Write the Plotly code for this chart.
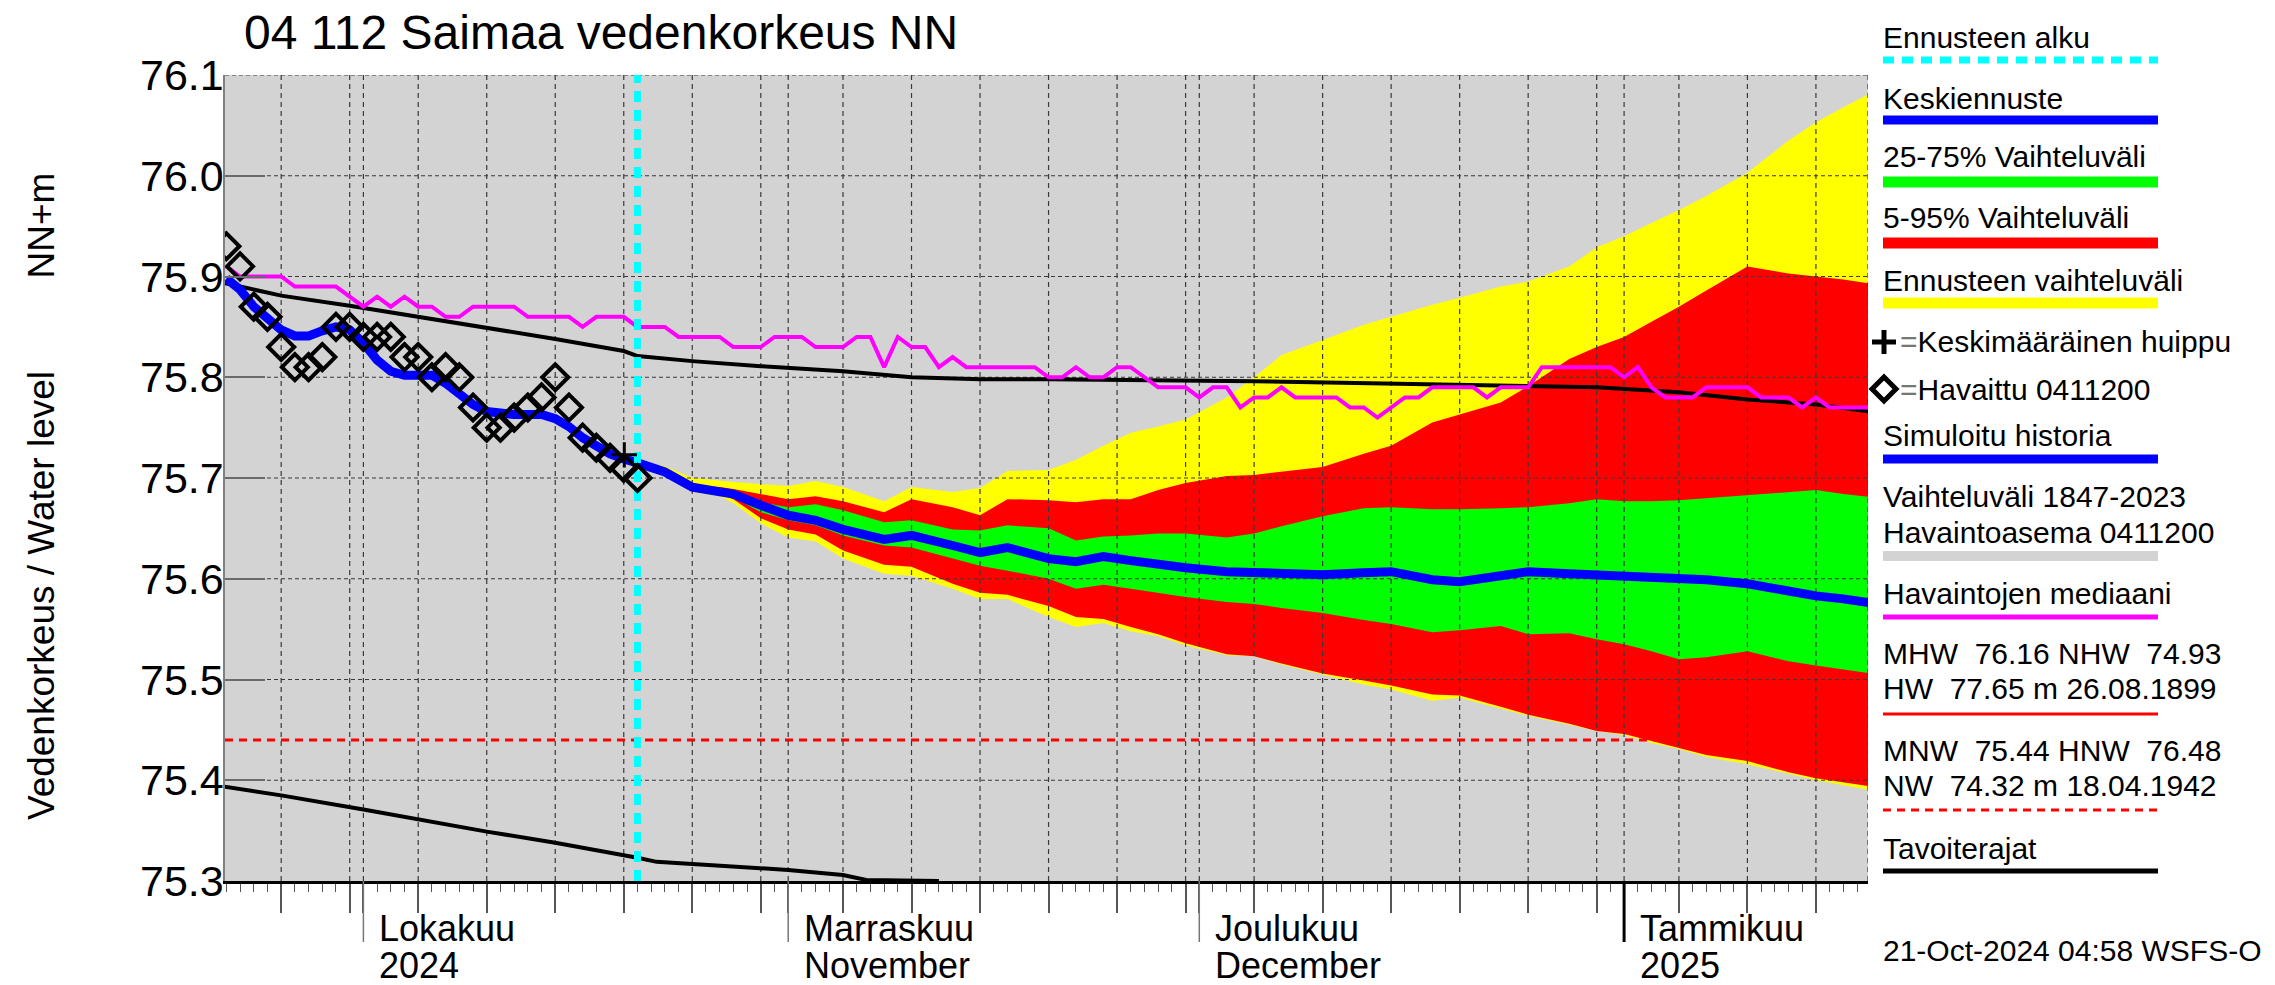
import plotly.graph_objects as go
import pandas as pd

# ---------------- data ----------------
BASE = pd.Timestamp("2024-10-01")          # day 0 = 1 Oct 2024
X_START = "2024-09-20 21:36"
X_END = "2025-01-18 19:12"
FORECAST_START_DAY = 20                    # 21 Oct 2024

y_ticks = [75.3, 75.4, 75.5, 75.6, 75.7, 75.8, 75.9, 76.0, 76.1]
grid_days_of_month = [5, 10, 15, 20, 25, 30]
grid_months = ["2024-09", "2024-10", "2024-11", "2024-12", "2025-01"]
month_starts = ["2024-10-01", "2024-11-01", "2024-12-01", "2025-01-01"]
month_label_1 = ["Lokakuu", "Marraskuu", "Joulukuu", "Tammikuu"]
month_label_2 = ["2024", "November", "December", "2025"]

# observed water level (diamonds), daily 21 Sep .. 21 Oct
obs_days = list(range(-10, 21))
obs_level = [75.93, 75.91, 75.87, 75.86, 75.83, 75.81, 75.81, 75.82, 75.85, 75.85,
             75.84, 75.84, 75.84, 75.82, 75.82, 75.80, 75.81, 75.80, 75.77, 75.75,
             75.75, 75.76, 75.77, 75.78, 75.80, 75.77, 75.74, 75.73, 75.72, 75.71, 75.70]

# simulated history (blue), daily
sim_days = list(range(-10, 21))
sim_level = [75.898, 75.887, 75.870, 75.857, 75.847, 75.841, 75.841, 75.846, 75.850, 75.847,
             75.834, 75.817, 75.806, 75.802, 75.803, 75.802, 75.794, 75.783, 75.773, 75.766,
             75.764, 75.763, 75.763, 75.763, 75.759, 75.751, 75.740, 75.731, 75.724, 75.719, 75.715]

# mean peak marker
peak_day = [19.04]
peak_level = [75.723]

# median of observations (magenta), daily
median_days = list(range(-10, 111))
median_level = [75.91, 75.90, 75.90, 75.90, 75.90, 75.89, 75.89, 75.89, 75.89, 75.88,
                75.87, 75.88, 75.87, 75.88, 75.87, 75.87, 75.86, 75.86, 75.87, 75.87,
                75.87, 75.87, 75.86, 75.86, 75.86, 75.86, 75.85, 75.86, 75.86, 75.86,
                75.85, 75.85, 75.85, 75.84, 75.84, 75.84, 75.84, 75.83, 75.83, 75.83,
                75.84, 75.84, 75.84, 75.83, 75.83, 75.83, 75.84, 75.84, 75.81, 75.84,
                75.83, 75.83, 75.81, 75.82, 75.81, 75.81, 75.81, 75.81, 75.81, 75.81,
                75.80, 75.80, 75.81, 75.80, 75.80, 75.81, 75.81, 75.80, 75.79, 75.79,
                75.79, 75.78, 75.79, 75.79, 75.77, 75.78, 75.78, 75.79, 75.78, 75.78,
                75.78, 75.78, 75.77, 75.77, 75.76, 75.77, 75.78, 75.78, 75.79, 75.79,
                75.79, 75.79, 75.78, 75.79, 75.79, 75.79, 75.81, 75.81, 75.81, 75.81,
                75.81, 75.81, 75.80, 75.81, 75.79, 75.78, 75.78, 75.78, 75.79, 75.79,
                75.79, 75.79, 75.78, 75.78, 75.78, 75.77, 75.78, 75.77, 75.77, 75.77,
                75.77]

# target limits (black)
upper_days = [-10.3, -6, -1, 4, 9, 14, 19, 20, 24, 29, 35, 40, 45, 50, 65, 80, 90, 96, 101, 106, 110]
upper_level = [75.894, 75.881, 75.871, 75.860, 75.849, 75.838, 75.826, 75.821, 75.816, 75.811,
               75.806, 75.800, 75.798, 75.798, 75.796, 75.792, 75.790, 75.785, 75.778, 75.773, 75.766]
lower_days = [-10.3, -6, 0, 4, 9, 14, 19, 20, 21.4, 31, 35, 36.7, 42]
lower_level = [75.394, 75.385, 75.371, 75.361, 75.349, 75.338, 75.326, 75.323, 75.319,
               75.311, 75.306, 75.301, 75.300]

MNW = 75.44

# forecast percentiles
fc_days = [20, 22, 24, 26, 27, 29, 31, 33, 35, 38, 40, 43, 45, 47, 50, 52, 54, 56, 58, 60,
           63, 65, 67, 70, 73, 75, 78, 80, 83, 85, 88, 90, 92, 94, 96, 98, 101, 104, 106, 108, 110]
fc_max = [75.715, 75.712, 75.700, 75.697, 75.696, 75.694, 75.692, 75.697, 75.691, 75.677,
          75.691, 75.686, 75.690, 75.707, 75.708, 75.718, 75.732, 75.745, 75.751, 75.758,
          75.780, 75.800, 75.822, 75.837, 75.852, 75.860, 75.872, 75.879, 75.890, 75.895,
          75.910, 75.929, 75.940, 75.953, 75.966, 75.980, 76.003, 76.035, 76.053, 76.068, 76.082]
fc_p95 = [75.715, 75.708, 75.692, 75.691, 75.689, 75.684, 75.679, 75.682, 75.677, 75.666,
          75.679, 75.671, 75.663, 75.679, 75.678, 75.676, 75.679, 75.679, 75.688, 75.695,
          75.702, 75.703, 75.706, 75.711, 75.724, 75.732, 75.755, 75.763, 75.775, 75.791,
          75.818, 75.830, 75.840, 75.855, 75.870, 75.886, 75.910, 75.903, 75.900, 75.897, 75.893]
fc_p75 = [75.715, 75.707, 75.691, 75.689, 75.686, 75.676, 75.671, 75.674, 75.668, 75.656,
          75.658, 75.649, 75.648, 75.653, 75.650, 75.638, 75.642, 75.643, 75.645, 75.645,
          75.641, 75.645, 75.652, 75.662, 75.670, 75.671, 75.669, 75.669, 75.670, 75.671,
          75.675, 75.679, 75.677, 75.677, 75.678, 75.680, 75.683, 75.686, 75.688, 75.684, 75.681]
fc_p50 = [75.715, 75.706, 75.691, 75.687, 75.684, 75.673, 75.663, 75.658, 75.649, 75.639,
          75.643, 75.633, 75.626, 75.631, 75.620, 75.617, 75.622, 75.618, 75.614, 75.611,
          75.607, 75.606, 75.605, 75.604, 75.606, 75.607, 75.599, 75.597, 75.603, 75.607,
          75.605, 75.604, 75.603, 75.602, 75.601, 75.599, 75.595, 75.587, 75.583, 75.580, 75.576]
fc_p25 = [75.715, 75.705, 75.690, 75.686, 75.681, 75.666, 75.658, 75.653, 75.643, 75.633,
          75.631, 75.620, 75.613, 75.608, 75.600, 75.590, 75.594, 75.590, 75.586, 75.582,
          75.577, 75.575, 75.571, 75.566, 75.559, 75.555, 75.547, 75.549, 75.553, 75.545,
          75.546, 75.540, 75.535, 75.528, 75.520, 75.522, 75.528, 75.518, 75.514, 75.510, 75.506]
fc_p05 = [75.715, 75.704, 75.689, 75.684, 75.679, 75.660, 75.649, 75.644, 75.628, 75.614,
          75.612, 75.595, 75.586, 75.584, 75.573, 75.562, 75.560, 75.552, 75.545, 75.536,
          75.525, 75.523, 75.516, 75.506, 75.499, 75.494, 75.485, 75.484, 75.473, 75.465,
          75.456, 75.449, 75.446, 75.439, 75.432, 75.425, 75.419, 75.408, 75.402, 75.398, 75.394]
fc_min = [75.715, 75.702, 75.686, 75.682, 75.675, 75.655, 75.641, 75.637, 75.620, 75.605,
          75.603, 75.590, 75.580, 75.580, 75.562, 75.552, 75.556, 75.548, 75.543, 75.534,
          75.524, 75.523, 75.515, 75.505, 75.495, 75.490, 75.479, 75.482, 75.471, 75.464,
          75.455, 75.449, 75.445, 75.437, 75.431, 75.423, 75.416, 75.406, 75.400, 75.395, 75.390]


def to_dates(days):
    return [BASE + pd.Timedelta(days=float(d)) for d in days]


FONT = "Liberation Sans, Arial, Helvetica, sans-serif"
YELLOW, RED, GREEN, BLUE = "#FFFF00", "#FF0000", "#00FF00", "#0000FF"
MAGENTA, CYAN, BGGREY = "#FF00FF", "#00FFFF", "#D3D3D3"
GRIDC = "#3a3a3a"

fig = go.Figure()
fcx = to_dates(fc_days)


def band(upper, lower, color):
    fig.add_trace(go.Scatter(x=fcx, y=upper, mode="lines", line=dict(width=0, color=color),
                             hoverinfo="skip"))
    fig.add_trace(go.Scatter(x=fcx, y=lower, mode="lines", line=dict(width=0, color=color),
                             fill="tonexty", fillcolor=color, hoverinfo="skip"))


band(fc_max, fc_min, YELLOW)
band(fc_p95, fc_p05, RED)
band(fc_p75, fc_p25, GREEN)

# MNW dashed line
fig.add_trace(go.Scatter(x=[X_START, X_END], y=[MNW, MNW], mode="lines",
                         line=dict(color=RED, width=3, dash="8px,6px")))

# grid (drawn above the bands like in the reference)
grid_dates = []
for m in grid_months:
    y, mo = m.split("-")
    if m != "2024-09":
        grid_dates.append(pd.Timestamp(f"{m}-01"))
    for d in grid_days_of_month:
        ts = pd.Timestamp(int(y), int(mo), d)
        if pd.Timestamp(X_START) < ts < pd.Timestamp(X_END):
            grid_dates.append(ts)
grid_dates = sorted(grid_dates)

vx, vy = [], []
for g in grid_dates + [pd.Timestamp(X_END)]:
    vx += [g, g, None]
    vy += [y_ticks[0], y_ticks[-1], None]
fig.add_trace(go.Scatter(x=vx, y=vy, mode="lines",
                         line=dict(color=GRIDC, width=1.2, dash="5px,4px"), hoverinfo="skip"))
hx, hy = [], []
for t in y_ticks[1:]:
    hx += [X_START, X_END, None]
    hy += [t, t, None]
fig.add_trace(go.Scatter(x=hx, y=hy, mode="lines",
                         line=dict(color=GRIDC, width=1.2, dash="4px,3px"), hoverinfo="skip"))

# target limits
fig.add_trace(go.Scatter(x=to_dates(upper_days), y=upper_level, mode="lines",
                         line=dict(color="black", width=4)))
fig.add_trace(go.Scatter(x=to_dates(lower_days), y=lower_level, mode="lines",
                         line=dict(color="black", width=4)))
# median of observations
fig.add_trace(go.Scatter(x=to_dates(median_days), y=median_level, mode="lines",
                         line=dict(color=MAGENTA, width=4)))
# simulated history + forecast median
fig.add_trace(go.Scatter(x=to_dates(sim_days), y=sim_level, mode="lines",
                         line=dict(color=BLUE, width=9)))
fig.add_trace(go.Scatter(x=fcx, y=fc_p50, mode="lines", line=dict(color=BLUE, width=9)))
# forecast start
fcs = to_dates([FORECAST_START_DAY])[0]
fig.add_trace(go.Scatter(x=[fcs, fcs], y=[y_ticks[0], y_ticks[-1]], mode="lines",
                         line=dict(color=CYAN, width=7, dash="11px,8px")))
# observations
fig.add_trace(go.Scatter(x=to_dates(obs_days), y=obs_level, mode="markers",
                         marker=dict(symbol="diamond-open", size=20, color="black",
                                     line=dict(width=4, color="black"))))
fig.add_trace(go.Scatter(x=to_dates(peak_day), y=peak_level, mode="markers",
                         marker=dict(symbol="cross-thin-open", size=18, color="black",
                                     line=dict(width=3, color="black"))))

# ---------------- layout ----------------
W, H = 2275, 985
L, R, T, B = 225, 407, 75, 104
PW, PH = W - L - R, H - T - B


def px(xp):
    return (xp - L) / PW


def py(yp):
    return (H - B - yp) / PH


fig.update_layout(
    width=W, height=H, autosize=False,
    margin=dict(l=L, r=R, t=T, b=B, pad=0),
    paper_bgcolor="white", plot_bgcolor=BGGREY, showlegend=False,
    font=dict(family=FONT, color="black"),
)
fig.update_xaxes(
    type="date", range=[X_START, X_END], showgrid=False, zeroline=False,
    showline=True, linecolor="black", linewidth=3,
    tickmode="array", tickvals=grid_dates, ticks="outside", ticklen=29,
    tickcolor="#555555", tickwidth=1.5, showticklabels=False,
    minor=dict(dtick=86400000, tick0="2024-09-21", ticks="outside", ticklen=8,
               tickcolor="#555555", tickwidth=1, showgrid=False),
)
fig.update_yaxes(
    range=[y_ticks[0], y_ticks[-1]], tickmode="array", tickvals=y_ticks,
    ticks="inside", ticklen=40, showticklabels=False,
    tickcolor="#6a6a6a", tickwidth=2, showgrid=False, zeroline=False,
    showline=True, linecolor="#808080", linewidth=2,
)

shapes = []
annotations = []
# y tick labels
for v in y_ticks:
    annotations.append(dict(xref="paper", yref="y", x=px(226), y=v, xanchor="right",
                            yanchor="middle", text=f"{v:.1f}", showarrow=False,
                            font=dict(size=43)))
# long month ticks
for ms in month_starts:
    is_year = ms.endswith("01-01")
    shapes.append(dict(type="line", xref="x", yref="paper", x0=ms, x1=ms,
                       y0=0, y1=py(942), line=dict(color="black" if is_year else "#777777",
                                                   width=3 if is_year else 1.5)))
for ms, l1, l2 in zip(month_starts, month_label_1, month_label_2):
    annotations.append(dict(xref="x", yref="paper", x=ms, xshift=14, xanchor="left",
                            y=py(929), yanchor="middle", text=l1, showarrow=False,
                            font=dict(size=36)))
    annotations.append(dict(xref="x", yref="paper", x=ms, xshift=14, xanchor="left",
                            y=py(965), yanchor="middle", text=l2, showarrow=False,
                            font=dict(size=36)))

# title and y-axis title
annotations.append(dict(xref="paper", yref="paper", x=px(242), y=py(32), xanchor="left",
                        yanchor="middle", text="04 112 Saimaa vedenkorkeus NN",
                        showarrow=False, font=dict(size=48)))
annotations.append(dict(xref="paper", yref="paper", x=px(42), y=py(497), xanchor="center",
                        yanchor="middle", textangle=-90,
                        text="Vedenkorkeus / Water level" + "\u00a0" * 9 + "NN+m",
                        showarrow=False, font=dict(size=37)))

# legend block
LX0, LX1 = 1883, 2158
legend_text = [
    ("Ennusteen alku", 37), ("Keskiennuste", 98), ("25-75% Vaihteluväli", 157),
    ("5-95% Vaihteluväli", 218), ("Ennusteen vaihteluväli", 280),
    ("Simuloitu historia", 435), ("Vaihteluväli 1847-2023", 497),
    ("Havaintoasema 0411200", 532), ("Havaintojen mediaani", 593),
    ("MHW\u00a0\u00a076.16 NHW\u00a0\u00a074.93", 653),
    ("HW\u00a0\u00a077.65 m 26.08.1899", 688),
    ("MNW\u00a0\u00a075.44 HNW\u00a0\u00a076.48", 750),
    ("NW\u00a0\u00a074.32 m 18.04.1942", 785), ("Tavoiterajat", 848),
    ("21-Oct-2024 04:58 WSFS-O", 950),
]
for txt, yy in legend_text:
    annotations.append(dict(xref="paper", yref="paper", x=px(LX0 - 2), y=py(yy),
                            xanchor="left", yanchor="middle", text=txt, showarrow=False,
                            font=dict(size=30)))
legend_lines = [
    (60, CYAN, 7, "11px,8px"), (120, BLUE, 9, "solid"), (182, GREEN, 11, "solid"),
    (243, RED, 11, "solid"), (303, YELLOW, 11, "solid"), (459, BLUE, 9, "solid"),
    (556, BGGREY, 10, "solid"), (617, MAGENTA, 5, "solid"), (714, RED, 3, "solid"),
    (810, RED, 3, "8px,6px"), (871, "black", 5, "solid"),
]
for yy, col, wd, dash in legend_lines:
    shapes.append(dict(type="line", xref="paper", yref="paper", x0=px(LX0), x1=px(LX1),
                       y0=py(yy), y1=py(yy), line=dict(color=col, width=wd, dash=dash)))
# '+' and diamond symbols
shapes.append(dict(type="line", xref="paper", yref="paper", x0=px(1872), x1=px(1896),
                   y0=py(342), y1=py(342), line=dict(color="black", width=5)))
shapes.append(dict(type="line", xref="paper", yref="paper", x0=px(1884), x1=px(1884),
                   y0=py(330), y1=py(354), line=dict(color="black", width=5)))
shapes.append(dict(type="path", xref="paper", yref="paper",
                   path=(f"M {px(1872)},{py(389)} L {px(1884)},{py(377)} L {px(1896)},{py(389)} "
                         f"L {px(1884)},{py(401)} Z"),
                   line=dict(color="black", width=5)))
annotations.append(dict(xref="paper", yref="paper", x=px(1898), y=py(342), xanchor="left",
                        yanchor="middle", showarrow=False, font=dict(size=30),
                        text='<span style="color:#777777">=</span>Keskimääräinen huippu'))
annotations.append(dict(xref="paper", yref="paper", x=px(1898), y=py(389), xanchor="left",
                        yanchor="middle", showarrow=False, font=dict(size=30),
                        text='<span style="color:#777777">=</span>Havaittu 0411200'))

fig.update_layout(shapes=shapes, annotations=annotations)
fig.write_html("out.html", config={"displayModeBar": False},
               post_script="document.body.style.margin='0px';")
